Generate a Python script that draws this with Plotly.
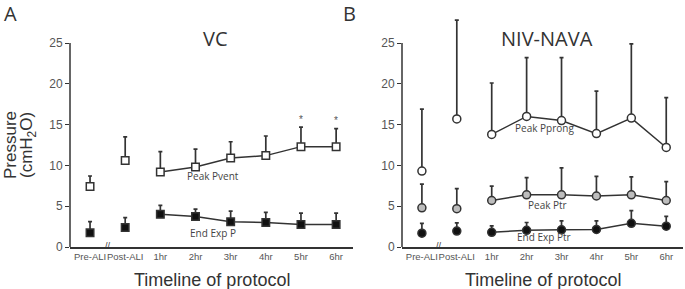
import plotly.graph_objects as go

categories = ["Pre-ALI", "Post-ALI", "1hr", "2hr", "3hr", "4hr", "5hr", "6hr"]
xpos = list(range(len(categories)))

# Panel A (VC)
peak_pvent = [7.4, 10.6, 9.2, 9.8, 10.9, 11.2, 12.3, 12.3]
peak_pvent_top = [8.7, 13.5, 11.7, 12.0, 12.9, 13.6, 14.7, 14.5]
end_exp_p = [1.75, 2.4, 4.0, 3.75, 3.1, 3.0, 2.75, 2.75]
end_exp_p_top = [3.1, 3.6, 5.1, 4.65, 4.4, 4.25, 4.15, 4.15]
signif_a = ["", "", "", "", "", "", "*", "*"]

# Panel B (NIV-NAVA)
peak_pprong = [9.3, 15.7, 13.8, 16.0, 15.5, 13.9, 15.8, 12.2]
peak_pprong_top = [16.9, 27.8, 20.1, 23.2, 23.2, 19.1, 24.9, 18.3]
peak_ptr = [4.8, 4.7, 5.7, 6.4, 6.4, 6.25, 6.4, 5.7]
peak_ptr_top = [7.7, 7.15, 7.45, 8.5, 9.7, 8.65, 8.6, 8.0]
end_exp_ptr = [1.7, 1.95, 1.8, 2.05, 2.1, 2.15, 2.9, 2.55]
end_exp_ptr_top = [2.9, 2.95, 2.6, 3.0, 3.2, 3.2, 4.45, 3.75]

yticks = [0, 5, 10, 15, 20, 25]

DARK = "#333333"
W, H = 685, 289


def px_x(p):
    return p / W


def px_y(p):
    return (H - p) / H


fig = go.Figure()


def add_series(xa, ya, vals, tops, symbol, fill, size):
    err = [t - v for t, v in zip(tops, vals)]
    marker = dict(symbol=symbol, size=size, color=fill, line=dict(color=DARK, width=1.5))
    ebar = dict(type="data", symmetric=False, color=DARK, thickness=1.7, width=2)
    e1 = dict(ebar, array=err[:2], arrayminus=[0] * 2)
    fig.add_trace(go.Scatter(x=xpos[:2], y=vals[:2], mode="markers", marker=marker,
                             error_y=e1, xaxis=xa, yaxis=ya, showlegend=False,
                             cliponaxis=False))
    e2 = dict(ebar, array=err[2:], arrayminus=[0] * (len(err) - 2))
    fig.add_trace(go.Scatter(x=xpos[2:], y=vals[2:], mode="lines+markers", marker=marker,
                             line=dict(color=DARK, width=1.5),
                             error_y=e2, xaxis=xa, yaxis=ya, showlegend=False,
                             cliponaxis=False))


add_series("x", "y", peak_pvent, peak_pvent_top, "square", "white", 7.5)
add_series("x", "y", end_exp_p, end_exp_p_top, "square", "#111111", 7.5)
add_series("x2", "y2", peak_pprong, peak_pprong_top, "circle", "white", 8)
add_series("x2", "y2", peak_ptr, peak_ptr_top, "circle", "#bdbdbd", 8)
add_series("x2", "y2", end_exp_ptr, end_exp_ptr_top, "circle", "#111111", 8)

xr = [-0.57, 7.48]
yr = [0, 28.5]
xdomA = [px_x(70), px_x(353)]
xdomB = [px_x(402), px_x(683)]
ydom = [px_y(247), px_y(247 - 28.5 * 8.16)]

tickfont = dict(family="Liberation Sans, Arial", size=9.5, color="#555555")
common_x = dict(range=xr, tickvals=xpos, ticktext=categories, showline=True,
                linecolor=DARK, linewidth=1.5, ticks="", showgrid=False, zeroline=False,
                tickfont=tickfont, tickangle=0, automargin=False, fixedrange=True)
common_y = dict(range=yr, tickvals=yticks, showline=False, ticks="outside", ticklen=4,
                tickcolor=DARK, tickwidth=1.2, showgrid=False, zeroline=False,
                tickfont=dict(family="Liberation Sans, Arial", size=12, color="#555555"),
                automargin=False, fixedrange=True)

fig.update_layout(
    width=W, height=H,
    margin=dict(l=0, r=0, t=0, b=0, autoexpand=False),
    paper_bgcolor="white", plot_bgcolor="white",
    xaxis=dict(common_x, domain=xdomA, anchor="y"),
    yaxis=dict(common_y, domain=ydom, anchor="x"),
    xaxis2=dict(common_x, domain=xdomB, anchor="y2"),
    yaxis2=dict(common_y, domain=ydom, anchor="x2"),
)

# y axis lines from 0 to 25
for xa, ya in (("x", "y"), ("x2", "y2")):
    fig.add_shape(type="line", xref=f"{xa} domain", yref=ya, x0=0, x1=0, y0=0, y1=25,
                  line=dict(color=DARK, width=1.5))

C = dict(xanchor="center", yanchor="middle", showarrow=False)
ann = []
ann.append(dict(C, text="A", x=px_x(10), y=px_y(13), xref="paper", yref="paper",
                font=dict(family="Open Sans", size=20, color=DARK)))
ann.append(dict(C, text="B", x=px_x(349), y=px_y(13), xref="paper", yref="paper",
                font=dict(family="Open Sans", size=20, color=DARK)))
ann.append(dict(C, text="VC", x=px_x(215), y=px_y(38), xref="paper", yref="paper",
                font=dict(family="Open Sans", size=20, color=DARK)))
ann.append(dict(C, text="NIV-NAVA", x=px_x(547), y=px_y(38), xref="paper", yref="paper",
                font=dict(family="Open Sans", size=20, color=DARK)))

for xa in ("x", "x2"):
    ann.append(dict(C, text="Timeline of protocol", x=0.5, y=px_y(280), xref=f"{xa} domain",
                    yref="paper",
                    font=dict(family="Liberation Sans, Arial", size=18, color=DARK)))
ann.append(dict(C, text="Pressure", x=px_x(10), y=px_y(145), xref="paper", yref="paper",
                textangle=-90,
                font=dict(family="Liberation Sans, Arial", size=17, color=DARK)))
ann.append(dict(C, text="(cmH<sub>2</sub>O)", x=px_x(28), y=px_y(145), xref="paper", yref="paper",
                textangle=-90,
                font=dict(family="Liberation Sans, Arial", size=17, color=DARK)))

for xa, ya in (("x", "y"), ("x2", "y2")):
    ann.append(dict(C, text="//", x=0.5, y=0, xref=xa, yref=ya, yshift=1,
                    font=dict(family="Liberation Sans, Arial", size=9, color=DARK)))

for i, s in enumerate(signif_a):
    if s:
        ann.append(dict(C, text=s, x=xpos[i], y=peak_pvent_top[i], xref="x", yref="y",
                        yshift=8,
                        font=dict(family="Liberation Sans, Arial", size=10, color="#555555")))

lab_font = dict(family="Open Sans", size=10, color="#444444")
ann.append(dict(C, text="Peak Pvent", x=3.5, y=8.7, xref="x", yref="y", font=lab_font))
ann.append(dict(C, text="End Exp P", x=3.5, y=1.75, xref="x", yref="y", font=lab_font))
ann.append(dict(C, text="Peak Pprong", x=3.5, y=14.6, xref="x2", yref="y2", font=lab_font))
ann.append(dict(C, text="Peak Ptr", x=3.6, y=5.15, xref="x2", yref="y2", font=lab_font))
ann.append(dict(C, text="End Exp Ptr", x=3.5, y=1.2, xref="x2", yref="y2", font=lab_font))

fig.update_layout(annotations=ann)

fig.write_html("out.html", config={"displayModeBar": False},
               post_script="document.body.style.margin='0';document.body.style.padding='0';")
